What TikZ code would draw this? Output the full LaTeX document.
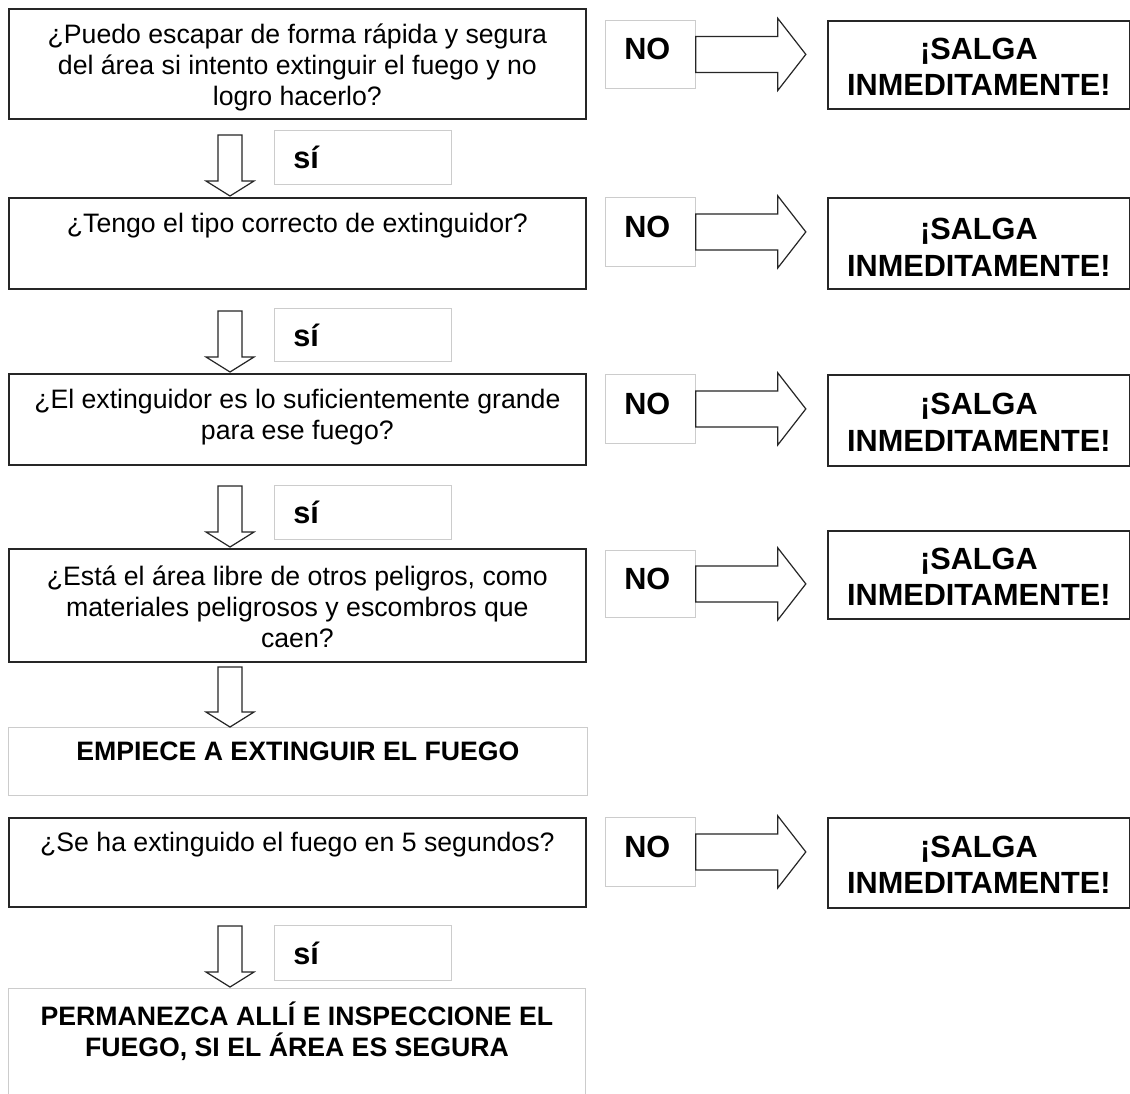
\documentclass[tikz,border=0pt]{standalone}
\usepackage{fontspec}
\setmainfont{Liberation Sans}
\newfontfamily\heavyfont{Liberation Sans Bold}
\usetikzlibrary{calc}
\def\pxu{0.75pt}
\begin{document}
\begin{tikzpicture}[x=0.75pt,y=-0.75pt,
  qbox/.style={draw=black!85, line width=1.3pt, rectangle, inner sep=0pt, anchor=north west},
  lbox/.style={draw=black!20, line width=0.6pt, rectangle, inner sep=0pt, anchor=north west},
  qtext/.style={anchor=north, inner sep=0pt, align=center, font=\fontsize{20}{23}\selectfont},
  btext/.style={anchor=north, inner sep=0pt, align=center, font=\bfseries\fontsize{20}{23}\selectfont},
  heavy/.style={font=\heavyfont\fontsize{23}{27.5}\selectfont, inner sep=0pt},
  blockarrow/.style={draw=black!85, line width=0.9pt, fill=white, line join=miter}]
\clip (0,0) rectangle (1130,1093);
\fill[white] (0,0) rectangle (1130,1093);
% ---- row 1
\node[qbox, minimum width=577*\pxu, minimum height=110*\pxu] (q1) at (8,8) {};
\node[qtext] (q1t) at ($(q1.north)+(0,16)$) {¿Puedo escapar de forma rápida y segura\\del área si intento extinguir el fuego y no\\logro hacerlo?};
\node[lbox, minimum width=90*\pxu, minimum height=68*\pxu] (no1) at (605,20) {};
\node[heavy, anchor=west] (no1t) at ($(no1.west)+(19,-5)$) {NO};
\node[qbox, minimum width=302*\pxu, minimum height=88*\pxu] (sal1) at (827,20) {};
\node[heavy, align=center] (sal1t) at ($(sal1.center)+(0,2)$) {¡SALGA\\INMEDITAMENTE!};
\draw[blockarrow] ($(no1.east)+(0,-18)$) -- ++(82,0) -- ++(0,-18) -- ($(no1.east)+(110,0)$) -- ++(-28,36) -- ++(0,-18) -- ++(-82,0) -- cycle;
% ---- si 1
\node[lbox, minimum width=177*\pxu, minimum height=54*\pxu] (si1) at (274,130) {};
\node[heavy, anchor=west] (si1t) at ($(si1.west)+(19,0)$) {sí};
% ---- row 2
\node[qbox, minimum width=577*\pxu, minimum height=91*\pxu] (q2) at (8,197) {};
\node[qtext] (q2t) at ($(q2.north)+(0,16)$) {¿Tengo el tipo correcto de extinguidor?};
\node[lbox, minimum width=90*\pxu, minimum height=69*\pxu] (no2) at (605,197) {};
\node[heavy, anchor=west] (no2t) at ($(no2.west)+(19,-5)$) {NO};
\node[qbox, minimum width=302*\pxu, minimum height=91*\pxu] (sal2) at (827,197) {};
\node[heavy, align=center] (sal2t) at ($(sal2.center)+(0,4)$) {¡SALGA\\INMEDITAMENTE!};
\draw[blockarrow] ($(no2.east)+(0,-18)$) -- ++(82,0) -- ++(0,-18) -- ($(no2.east)+(110,0)$) -- ++(-28,36) -- ++(0,-18) -- ++(-82,0) -- cycle;
\draw[blockarrow] ($(q2.north west)+(222,-1)$) -- ++(-24,-15) -- ++(12,0) -- ++(0,-46) -- ++(24,0) -- ++(0,46) -- ++(12,0) -- cycle;
% ---- si 2
\node[lbox, minimum width=177*\pxu, minimum height=53*\pxu] (si2) at (274,308) {};
\node[heavy, anchor=west] (si2t) at ($(si2.west)+(19,0)$) {sí};
% ---- row 3
\node[qbox, minimum width=577*\pxu, minimum height=91*\pxu] (q3) at (8,373) {};
\node[qtext] (q3t) at ($(q3.north)+(0,16)$) {¿El extinguidor es lo suficientemente grande\\para ese fuego?};
\node[lbox, minimum width=90*\pxu, minimum height=69*\pxu] (no3) at (605,374) {};
\node[heavy, anchor=west] (no3t) at ($(no3.west)+(19,-5)$) {NO};
\node[qbox, minimum width=302*\pxu, minimum height=91*\pxu] (sal3) at (827,374) {};
\node[heavy, align=center] (sal3t) at ($(sal3.center)+(0,2)$) {¡SALGA\\INMEDITAMENTE!};
\draw[blockarrow] ($(no3.east)+(0,-18)$) -- ++(82,0) -- ++(0,-18) -- ($(no3.east)+(110,0)$) -- ++(-28,36) -- ++(0,-18) -- ++(-82,0) -- cycle;
\draw[blockarrow] ($(q3.north west)+(222,-1)$) -- ++(-24,-15) -- ++(12,0) -- ++(0,-46) -- ++(24,0) -- ++(0,46) -- ++(12,0) -- cycle;
% ---- si 3
\node[lbox, minimum width=177*\pxu, minimum height=54*\pxu] (si3) at (274,485) {};
\node[heavy, anchor=west] (si3t) at ($(si3.west)+(19,0)$) {sí};
% ---- row 4
\node[qbox, minimum width=577*\pxu, minimum height=113*\pxu] (q4) at (8,548) {};
\node[qtext] (q4t) at ($(q4.north)+(0,18)$) {¿Está el área libre de otros peligros, como\\materiales peligrosos y escombros que\\caen?};
\node[lbox, minimum width=90*\pxu, minimum height=67*\pxu] (no4) at (605,550) {};
\node[heavy, anchor=west] (no4t) at ($(no4.west)+(19,-5)$) {NO};
\node[qbox, minimum width=302*\pxu, minimum height=88*\pxu] (sal4) at (827,530) {};
\node[heavy, align=center] (sal4t) at ($(sal4.center)+(0,2)$) {¡SALGA\\INMEDITAMENTE!};
\draw[blockarrow] ($(no4.east)+(0,-18)$) -- ++(82,0) -- ++(0,-18) -- ($(no4.east)+(110,0)$) -- ++(-28,36) -- ++(0,-18) -- ++(-82,0) -- cycle;
\draw[blockarrow] ($(q4.north west)+(222,-1)$) -- ++(-24,-15) -- ++(12,0) -- ++(0,-46) -- ++(24,0) -- ++(0,46) -- ++(12,0) -- cycle;
% ---- empiece
\node[lbox, minimum width=579*\pxu, minimum height=68*\pxu] (emp) at (8,727) {};
\node[btext] (empt) at ($(emp.north)+(0,15)$) {EMPIECE A EXTINGUIR EL FUEGO};
\draw[blockarrow] ($(emp.north west)+(222,0)$) -- ++(-24,-15) -- ++(12,0) -- ++(0,-45) -- ++(24,0) -- ++(0,45) -- ++(12,0) -- cycle;
% ---- row 5
\node[qbox, minimum width=577*\pxu, minimum height=89*\pxu] (q5) at (8,817) {};
\node[qtext] (q5t) at ($(q5.north)+(0,15)$) {¿Se ha extinguido el fuego en 5 segundos?};
\node[lbox, minimum width=90*\pxu, minimum height=69*\pxu] (no5) at (605,817) {};
\node[heavy, anchor=west] (no5t) at ($(no5.west)+(19,-5)$) {NO};
\node[qbox, minimum width=302*\pxu, minimum height=90*\pxu] (sal5) at (827,817) {};
\node[heavy, align=center] (sal5t) at ($(sal5.center)+(0,2)$) {¡SALGA\\INMEDITAMENTE!};
\draw[blockarrow] ($(no5.east)+(0,-18)$) -- ++(82,0) -- ++(0,-18) -- ($(no5.east)+(110,0)$) -- ++(-28,36) -- ++(0,-18) -- ++(-82,0) -- cycle;
% ---- si 5
\node[lbox, minimum width=177*\pxu, minimum height=55*\pxu] (si5) at (274,925) {};
\node[heavy, anchor=west] (si5t) at ($(si5.west)+(19,0)$) {sí};
% ---- permanezca
\node[lbox, minimum width=577*\pxu, minimum height=130*\pxu] (perm) at (8,988) {};
\node[btext] (permt) at ($(perm.north)+(0,14)$) {PERMANEZCA ALLÍ E INSPECCIONE EL\\FUEGO, SI EL ÁREA ES SEGURA};
\draw[blockarrow] ($(perm.north west)+(222,-1)$) -- ++(-24,-15) -- ++(12,0) -- ++(0,-46) -- ++(24,0) -- ++(0,46) -- ++(12,0) -- cycle;
\end{tikzpicture}
\end{document}
